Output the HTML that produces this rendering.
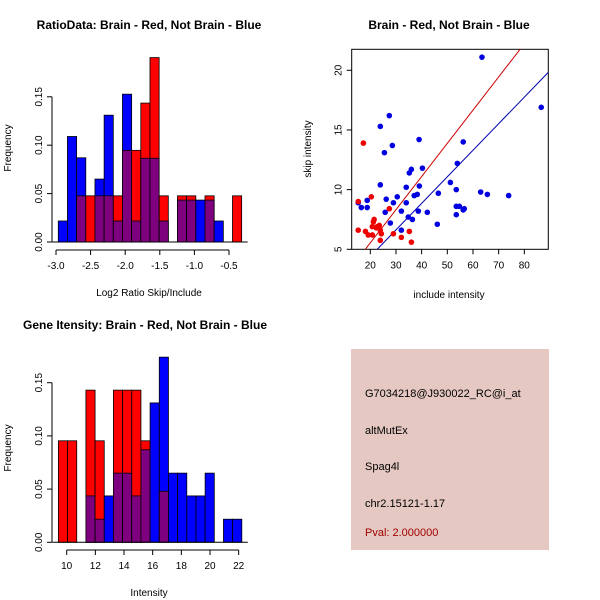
<!DOCTYPE html>
<html><head><meta charset="utf-8"><style>
body{margin:0;background:#fff}
svg{display:block;font-family:"Liberation Sans",Arial,sans-serif}
</style></head><body>
<svg id="s" width="600" height="600" xmlns="http://www.w3.org/2000/svg">
<rect width="600" height="600" fill="#fff"/>
<text x="149" y="29" text-anchor="middle" font-size="12" font-weight="bold">RatioData: Brain - Red, Not Brain - Blue</text>
<text x="449" y="29" text-anchor="middle" font-size="12" font-weight="bold">Brain - Red, Not Brain - Blue</text>
<text x="145" y="329" text-anchor="middle" font-size="12" font-weight="bold">Gene Itensity: Brain - Red, Not Brain - Blue</text>
<g>
<rect x="351" y="349" width="198" height="201" fill="#e5c8c2"/>
<text x="365" y="397" font-size="11">G7034218@J930022_RC@i_at</text>
<text x="365" y="434" font-size="11">altMutEx</text>
<text x="365" y="470" font-size="11">Spag4l</text>
<text x="365" y="507" font-size="11">chr2.15121-1.17</text>
<text x="365" y="536" font-size="11" fill="#a00000">Pval: 2.000000</text>
</g>
</svg>
<script>
// Ratio histogram data
const ratioStart=-2.967, ratioBinW=0.1325;
const ratioBlue=[0.0217,0.109,0.087,0,0.065,0.131,0.0217,0.1527,0.0217,0.0865,0.0865,0.0217,0,0.0433,0.0433,0.0433,0.0433,0.0217,0,0];
const ratioRed=[0,0,0.0477,0.0477,0.0477,0.0477,0.0477,0.0947,0.0947,0.1435,0.1905,0.0477,0,0.0477,0.0477,0,0.0477,0,0,0.0477];
const ratioXTicks=[-3.0,-2.5,-2.0,-1.5,-1.0,-0.5];
const ratioYTicks=[0,0.05,0.10,0.15];
// Intensity histogram data
const intStart=9.42, intBinW=0.64;
const intBlue=[0,0,0,0.0436,0.0217,0.0436,0.065,0.065,0.0436,0.087,0.131,0.174,0.065,0.065,0.0436,0.0436,0.065,0,0.0217,0.0217];
const intRed=[0.0954,0.0954,0,0.143,0.0954,0,0.143,0.143,0.143,0.0954,0,0.048,0,0,0,0,0,0,0,0];
const intXTicks=[10,12,14,16,18,20,22];
const intYTicks=[0,0.05,0.10,0.15];
// Scatter data
const blueInc=[63.5,86.6,27.4,23.9,28.6,25.5,39.0,56.2,53.9,40.3,36.0,35.2,23.9,34.0,39.1,51.2,53.5,63.0,65.6,73.9,46.5,37.1,38.3,30.5,26.2,29.0,18.8,15.3,16.5,18.8,34.0,25.8,32.1,38.7,42.2,53.5,54.7,56.6,56.2,53.5,34.8,36.4,27.8,46.1,32.1];
const blueSkip=[21.1,16.9,16.2,15.3,13.7,13.1,14.2,14.0,12.2,11.8,11.7,11.4,10.4,10.2,10.3,10.6,10.0,9.8,9.6,9.5,9.7,9.5,9.6,9.4,9.2,8.9,9.1,8.9,8.5,8.5,8.9,8.1,8.2,8.2,8.1,8.6,8.6,8.4,8.3,7.9,7.7,7.5,7.2,7.1,6.6];
const redInc=[17.3,15.3,20.4,27.4,21.5,21.2,20.8,22.7,23.5,22.3,23.9,24.3,15.3,18.1,19.2,20.8,23.9,29.0,32.1,35.2,36.0];
const redSkip=[13.9,9.0,9.4,8.4,7.5,7.3,6.9,6.9,7.0,6.8,6.6,6.3,6.6,6.5,6.2,6.2,5.75,6.3,6.0,6.5,5.6];
const redFit=[-0.02,0.278];
const blueFit=[-0.05,0.2225];
const scXTicks=[20,30,40,50,60,70,80];
const scYTicks=[5,10,15,20];

const S=document.getElementById('s');
const NS='http://www.w3.org/2000/svg';
function mk(t,a,p){const e=document.createElementNS(NS,t);for(const k in a)e.setAttribute(k,a[k]);(p||S).appendChild(e);return e;}

function hist(o){
  const g=mk('g',{});
  
  
  const X=v=>o.x0+(v-o.xv0)*o.xs, Y=v=>o.y0-v*o.ys;
  for(let i=0;i<o.red.length;i++){
    const a=o.start+i*o.bw,b=a+o.bw,r=o.red[i],bl=o.blue[i];
    const mx=Math.max(r,bl),mn=Math.min(r,bl);
    if(mx<=0)continue;
    const r1=mk('rect',{x:X(a),y:Y(mx),width:X(b)-X(a),height:Y(0)-Y(mx),fill:r>=bl?'#ff0000':'#0000ff',stroke:'#000','stroke-width':0.8},g);
    
    
    if(mn>0){const r2=mk('rect',{x:X(a),y:Y(mn),width:X(b)-X(a),height:Y(0)-Y(mn),fill:'#7f007f',stroke:'#000','stroke-width':0.8},g);
      
      }
  }
  // baseline
  const st=o.start, en=o.start+o.red.length*o.bw;
  mk('line',{x1:X(st)-6,x2:X(en)+6,y1:Y(0),y2:Y(0),stroke:'#000'},g);
  // y axis
  const ya=mk('g',{},g);
  
  
  const yl=o.yt[0],yh=o.yt[o.yt.length-1];
  mk('line',{x1:o.yax,x2:o.yax,y1:Y(yl),y2:Y(yh),stroke:'#000'},ya);
  o.yt.forEach(t=>{mk('line',{x1:o.yax-5,x2:o.yax,y1:Y(t),y2:Y(t),stroke:'#000'},ya);
    const tx=mk('text',{x:0,y:0,'font-size':10,'text-anchor':'middle',transform:`translate(${o.yax-10},${Y(t)}) rotate(-90)`},ya);tx.textContent=t.toFixed(2);});
  const yt=mk('text',{'font-size':10,'text-anchor':'middle',transform:`translate(11,${o.ylabY}) rotate(-90)`},g);
  
  
  yt.textContent='Frequency';
  // x axis
  const xa=mk('g',{},g);
  
  
  const xl=o.xt[0],xh=o.xt[o.xt.length-1];
  mk('line',{x1:X(xl),x2:X(xh),y1:o.xay,y2:o.xay,stroke:'#000'},xa);
  o.xt.forEach(t=>{mk('line',{x1:X(t),x2:X(t),y1:o.xay,y2:o.xay+5,stroke:'#000'},xa);
    const tx=mk('text',{x:X(t),y:o.xay+19,'font-size':10,'text-anchor':'middle'},xa);tx.textContent=o.fmt(t);});
  const xt=mk('text',{x:o.xlabX,y:o.xay+46,'font-size':10,'text-anchor':'middle'},g);
  
  
  xt.textContent=o.xlab;
}
hist({name:'ratio-histogram',red:ratioRed,blue:ratioBlue,start:ratioStart,bw:ratioBinW,x0:56,xv0:-3,xs:69.2,y0:242,ys:968,yax:52,xay:250,yt:ratioYTicks,xt:ratioXTicks,fmt:t=>t.toFixed(1),xlab:'Log2 Ratio Skip/Include',xlabX:149,ylabY:148});
hist({name:'intensity-histogram',red:intRed,blue:intBlue,start:intStart,bw:intBinW,x0:66.7,xv0:10,xs:14.33,y0:542.3,ys:1064,yax:52,xay:550,yt:intYTicks,xt:intXTicks,fmt:t=>String(t),xlab:'Intensity',xlabX:149,ylabY:448});

// scatter
(function(){
  const L=351.7,R=548.3,T=49.3,B=249.3;
  const X=v=>370.3+(v-20)*2.567, Y=v=>249.3-(v-5)*11.933;
  const g=mk('g',{});
  
  
  mk('rect',{x:L,y:T,width:R-L,height:B-T,fill:'none',stroke:'#000'},g);
  const cp=mk('clipPath',{id:'cp'},g);mk('rect',{x:L,y:T,width:R-L,height:B-T},cp);
  const xa=mk('g',{},g);
  
  
  scXTicks.forEach(t=>{mk('line',{x1:X(t),x2:X(t),y1:B,y2:B+5,stroke:'#000'},xa);
    const tx=mk('text',{x:X(t),y:B+19,'font-size':10,'text-anchor':'middle'},xa);tx.textContent=t;});
  const ya=mk('g',{},g);
  
  
  scYTicks.forEach(t=>{mk('line',{x1:L-5,x2:L,y1:Y(t),y2:Y(t),stroke:'#000'},ya);
    const tx=mk('text',{'font-size':10,'text-anchor':'middle',transform:`translate(${L-10},${Y(t)}) rotate(-90)`},ya);tx.textContent=t;});
  const xt=mk('text',{x:449,y:298,'font-size':10,'text-anchor':'middle'},g);
  
  
  xt.textContent='include intensity';
  const yt=mk('text',{'font-size':10,'text-anchor':'middle',transform:'translate(311,149) rotate(-90)'},g);
  
  
  yt.textContent='skip intensity';
  const lg=mk('g',{'clip-path':'url(#cp)'},g);
  const xs0=12,xs1=95;
  const rl=mk('line',{x1:X(xs0),y1:Y(redFit[0]+redFit[1]*xs0),x2:X(xs1),y2:Y(redFit[0]+redFit[1]*xs1),stroke:'#cc0000'},lg);
  
  
  const bl=mk('line',{x1:X(xs0),y1:Y(blueFit[0]+blueFit[1]*xs0),x2:X(xs1),y2:Y(blueFit[0]+blueFit[1]*xs1),stroke:'#0000aa'},lg);
  
  
  blueInc.forEach((v,i)=>{const c=mk('circle',{cx:X(v),cy:Y(blueSkip[i]),r:2.8,fill:'#0000e0'},g);
    
    });
  redInc.forEach((v,i)=>{const c=mk('circle',{cx:X(v),cy:Y(redSkip[i]),r:2.8,fill:'#ee0000'},g);
    
    });
})();
</script>
</body></html>
